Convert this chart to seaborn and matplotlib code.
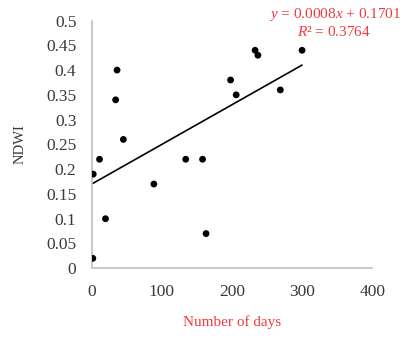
import numpy as np
import pandas as pd
import seaborn as sns
import matplotlib.pyplot as plt

# 读图估计的数据点
days = [2, 11, 36, 34, 45, 134, 158, 198, 206, 233, 237, 19.5, 88.5, 163, 1.4, 269, 300]
ndwi = [0.19, 0.22, 0.40, 0.34, 0.26, 0.22, 0.22, 0.38, 0.35, 0.44, 0.43, 0.10, 0.17, 0.07, 0.02, 0.36, 0.44]

# 趋势线 (图中公式)
slope = 0.0008
intercept = 0.1701
r2 = 0.3764

x_ticks = [0, 100, 200, 300, 400]
y_ticks = [0, 0.05, 0.1, 0.15, 0.2, 0.25, 0.3, 0.35, 0.4, 0.45, 0.5]
y_tick_labels = ["0", "0.05", "0.1", "0.15", "0.2", "0.25", "0.3", "0.35", "0.4", "0.45", "0.5"]

red = "#EE3B3F"
axis_gray = "#BFBFBF"
text_gray = "#3A3A3A"

sns.set_style("white")
plt.rcParams['font.family'] = ['Liberation Serif', 'DejaVu Serif']
plt.rcParams['mathtext.fontset'] = 'custom'
plt.rcParams['mathtext.it'] = 'Liberation Serif:italic'
plt.rcParams['mathtext.rm'] = 'Liberation Serif'

df = pd.DataFrame({"days": days, "ndwi": ndwi})

fig = plt.figure(figsize=(4.01, 3.37), dpi=100)
ax = fig.add_axes([0.229, 0.204, 0.699, 0.735])

sns.scatterplot(data=df, x="days", y="ndwi", ax=ax, color="black", s=24,
                edgecolor="none", zorder=3)

# 线性趋势线，从最小x到最大x
x_line = np.array([min(days), max(days)])
sns.lineplot(x=x_line, y=intercept + slope * x_line, ax=ax, color="black", linewidth=1.2)

ax.set_xlim(0, 400)
ax.set_ylim(0, 0.5)
ax.set_xticks(x_ticks)
ax.set_xticklabels([str(t) for t in x_ticks])
ax.set_yticks(y_ticks)
ax.set_yticklabels(y_tick_labels)

for side in ["top", "right"]:
    ax.spines[side].set_visible(False)
for side in ["left", "bottom"]:
    ax.spines[side].set_color(axis_gray)
    ax.spines[side].set_linewidth(1.2)

ax.tick_params(axis="both", which="both", direction="out", length=3.6, width=1.2,
               color=axis_gray, labelsize=12.5, labelcolor=text_gray, pad=7.5)
ax.tick_params(axis="x", pad=8)

ax.set_xlabel("Number of days", color=red, fontsize=11, labelpad=11)
ax.set_ylabel("NDWI", color=text_gray, fontsize=10.5, labelpad=14)

fig.text(0.835, 0.958, r"$y$ = 0.0008$x$ + 0.1701", color=red, fontsize=11,
         ha="center", va="center")
fig.text(0.832, 0.905, r"$R$² = %.4f" % r2, color=red, fontsize=11,
         ha="center", va="center")

plt.savefig("out.png", dpi=100)
